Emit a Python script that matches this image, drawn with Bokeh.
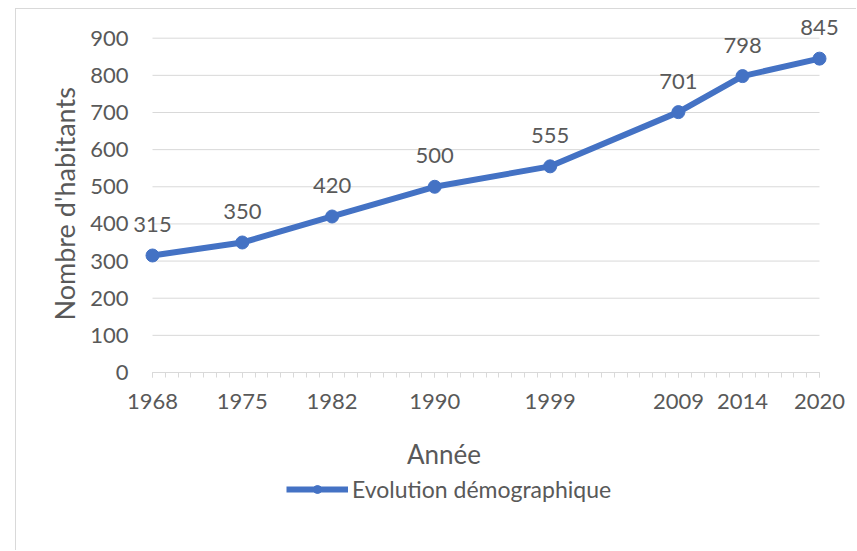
from bokeh.plotting import figure
from bokeh.models import (ColumnDataSource, FixedTicker, Legend, LegendItem, LabelSet,
                          Label, Range1d, Spacer, Title)
from bokeh.layouts import row, column
from bokeh.core.properties import value
from bokeh.embed import file_html
from bokeh.resources import INLINE

years = [1968, 1975, 1982, 1990, 1999, 2009, 2014, 2020]
habitants = [315, 350, 420, 500, 555, 701, 798, 845]
y_ticks = [0, 100, 200, 300, 400, 500, 600, 700, 800, 900]
minor_years = list(range(1968, 2021))

FONT = "Lato"
GREY = "#595959"
BLUE = "#4472C4"
GRID = "#d9d9d9"
FS = "22px"
FS_L = "23px"
FS_T = "26px"
FS_YT = "27px"

# canvas geometry (px)
W, H = 841, 542
FL, FR, FT, FB = 112, 832, 5, 494          # frame edges in canvas px
X0PX, X1PX = 136, 803                       # where first / last year sit
Y0PX, Y900PX = 363, 28.7                    # where 0 / 900 sit
kx = (X1PX - X0PX) / (max(years) - min(years))
ky = (Y0PX - Y900PX) / max(y_ticks)
x_start = min(years) - (X0PX - FL) / kx
x_end = max(years) + (FR - X1PX) / kx
y_end = max(y_ticks) + (Y900PX - FT) / ky
y_start = -(FB - Y0PX) / ky

def px_to_x(px):
    return x_start + (px - FL) / kx

def px_to_y(py):
    return y_start + (FB - py) / ky

src = ColumnDataSource(dict(x=years, y=habitants, lab=[str(v) for v in habitants]))
grid_src = ColumnDataSource(dict(x0=[min(years)] * len(y_ticks), x1=[max(years)] * len(y_ticks),
                                 y=y_ticks))

p = figure(width=W, height=H, output_backend="svg", toolbar_location=None,
           x_range=Range1d(x_start, x_end), y_range=Range1d(y_start, y_end),
           min_border_left=FL, min_border_right=W - FR, min_border_top=FT,
           min_border_bottom=H - FB)
p.outline_line_color = None
p.xgrid.grid_line_color = None
p.ygrid.grid_line_color = None

# x axis, drawn at y = 0
xa = p.xaxis[0]
xa.fixed_location = 0
xa.ticker = FixedTicker(ticks=years, minor_ticks=minor_years)
xa.bounds = (min(years), max(years))
xa.axis_line_color = GRID
xa.major_tick_line_color = GRID
xa.minor_tick_line_color = GRID
xa.major_tick_out = 5
xa.major_tick_in = 0
xa.minor_tick_out = 5
xa.minor_tick_in = 0
xa.major_label_text_font = FONT
xa.major_label_text_font_size = FS
xa.major_label_text_color = GREY
xa.major_label_standoff = 16

# y axis
ya = p.yaxis[0]
ya.ticker = FixedTicker(ticks=y_ticks)
ya.bounds = (0, max(y_ticks))
ya.axis_line_color = None
ya.major_tick_line_color = None
ya.minor_tick_line_color = None
ya.major_tick_out = 0
ya.major_tick_in = 0
ya.minor_tick_out = 0
ya.major_label_text_font = FONT
ya.major_label_text_font_size = FS
ya.major_label_text_color = GREY
ya.major_label_standoff = 0

# horizontal grid limited to the year span
p.segment(x0="x0", x1="x1", y0="y", y1="y", source=grid_src, line_color=GRID, line_width=1)

line = p.line("x", "y", source=src, line_color=BLUE, line_width=6)
pts = p.scatter("x", "y", source=src, size=13, fill_color=BLUE, line_color=BLUE)

labels = LabelSet(x="x", y="y", text="lab", source=src, text_align="center",
                  text_baseline="middle", y_offset=31, text_font=value(FONT),
                  text_font_size=FS, text_color=GREY)
p.add_layout(labels)

# y title: centre of text at canvas y ~192.5
ytitle = Title(text="Nombre d'habitants", align="left", offset=183, standoff=14,
               text_font=FONT, text_font_size=FS_YT, text_font_style="normal",
               text_color=GREY)
p.add_layout(ytitle, "left")

xtitle = Label(x=px_to_x(427.5), y=px_to_y(444), text="Année", text_align="center",
               text_baseline="middle", text_font=FONT, text_font_size=FS_T,
               text_color=GREY)
p.add_layout(xtitle)

legend = Legend(items=[LegendItem(label="Evolution démographique", renderers=[line, pts])],
                location=(270 - FL, 0), orientation="horizontal",
                glyph_width=62, glyph_height=20, label_text_font=FONT,
                label_text_font_size=FS_L, label_text_color=GREY,
                border_line_color=None, background_fill_alpha=0,
                padding=0, margin=0, label_standoff=4)
p.add_layout(legend, "center")

p.styles = {"border-left": "1px solid #d9d9d9", "border-top": "1px solid #d9d9d9"}

layout = column(Spacer(width=10, height=8), row(Spacer(width=15, height=10), p))

open("out.html", "w").write(file_html(layout, INLINE))
